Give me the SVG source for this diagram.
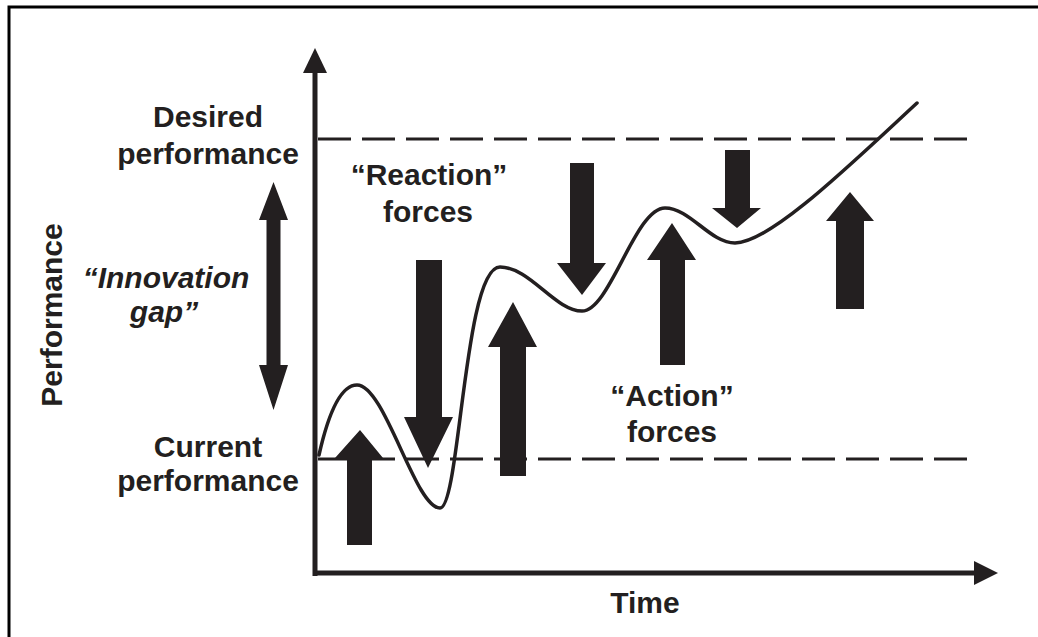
<svg xmlns="http://www.w3.org/2000/svg" width="1038" height="637" viewBox="0 0 1038 637">
<style>
.blk{fill:#231f20;stroke:none}
.ax{stroke:#231f20;stroke-width:5;fill:none}
.dash{stroke:#231f20;stroke-width:3;stroke-dasharray:33 11;fill:none}
.curve{stroke:#231f20;stroke-width:3.5;fill:none;stroke-linecap:round}
.t{font-family:"Liberation Sans",Arial,sans-serif;font-weight:bold;font-size:30px;fill:#231f20;text-anchor:middle}
.it{font-style:italic}
</style>
<rect x="0" y="0" width="1038" height="637" fill="#ffffff"/>
<path d="M9,637 V7 H1038" fill="none" stroke="#000" stroke-width="3"/>
<g id="axes">
<line class="ax" x1="315" y1="576" x2="315" y2="70"/>
<polygon class="blk" points="315,48 327,73 303,73"/>
<line class="ax" x1="313" y1="573" x2="976" y2="573"/>
<polygon class="blk" points="998,573 974,561 974,585"/>
</g>
<g id="levels">
<line class="dash" x1="318" y1="139" x2="976" y2="139"/>
<line class="dash" x1="318" y1="459" x2="976" y2="459"/>
</g>
<g id="curve">
<path class="curve" d="M319,455 C328,415 340,385 357,385 C385,385 415,508 440,508 C460,508 464,267 500,267 C530,267 555,311 582,311 C610,311 635,208 665,208 C690,208 710,243 735,243 C770,243 850,165 917,103"/>
</g>
<g id="forces">
<polygon class="blk" points="347,545 347,458 335,458 360,430 383,458 372,458 372,545"/>
<polygon class="blk" points="416,260 442,260 442,417 453,417 428,468 404,417 416,417"/>
<polygon class="blk" points="500,476 500,347 488,347 513,302 537,347 526,347 526,476"/>
<polygon class="blk" points="570,163 594,163 594,263 606,263 582,295 557,263 570,263"/>
<polygon class="blk" points="660,365 660,260 647,260 672,223 696,260 685,260 685,365"/>
<polygon class="blk" points="725,150 750,150 750,208 761,208 737,228 712,208 725,208"/>
<polygon class="blk" points="836,309 836,221 826,221 850,192 874,221 864,221 864,309"/>
</g>
<g id="gap-arrow">
<polygon class="blk" points="273.5,182 288,220 280.5,220 280.5,365 288,365 273.5,410 259,365 266.5,365 266.5,220 259,220"/>
</g>
<g id="desired-label">
<text class="t" x="208" y="127">Desired</text>
<text class="t" x="208" y="164">performance</text>
</g>
<g id="current-label">
<text class="t" x="208" y="457">Current</text>
<text class="t" x="208" y="491">performance</text>
</g>
<g id="gap-label">
<text class="t it" x="166" y="288">“Innovation</text>
<text class="t it" x="164" y="322">gap”</text>
</g>
<g id="y-label">
<text class="t" font-size="31" transform="translate(62,315) rotate(-90)">Performance</text>
</g>
<g id="reaction-label">
<text class="t" x="429" y="185">“Reaction”</text>
<text class="t" x="428" y="222">forces</text>
</g>
<g id="action-label">
<text class="t" x="672" y="406">“Action”</text>
<text class="t" x="672" y="442">forces</text>
</g>
<g id="x-label">
<text class="t" x="645" y="613">Time</text>
</g>
</svg>
